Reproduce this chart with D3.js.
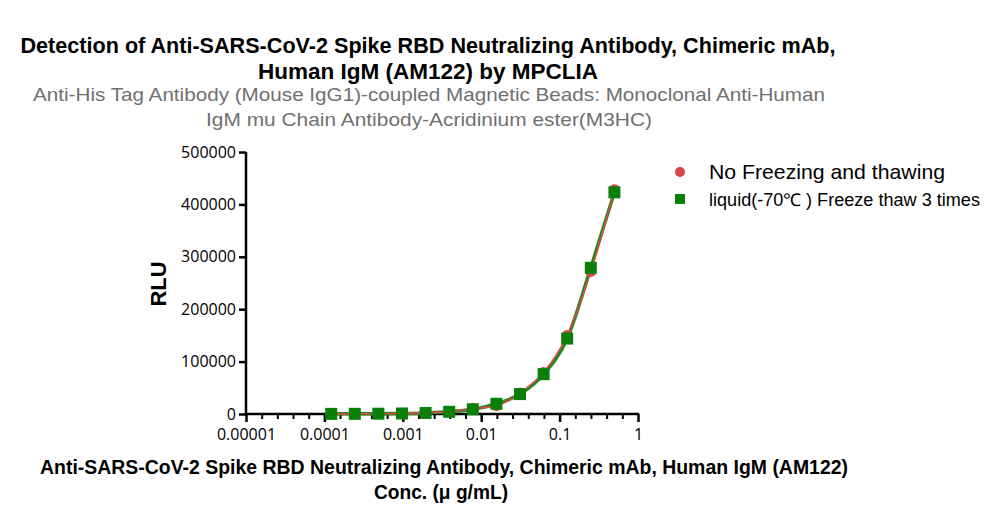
<!DOCTYPE html>
<html><head><meta charset="utf-8">
<script src="https://cdn.jsdelivr.net/npm/d3@7"></script>
<style>body{margin:0;background:#fff}svg{display:block}</style>
</head><body><svg id="c" width="1000" height="523"></svg>
<script>
const conc = [0.5, 0.25, 0.125, 0.0625, 0.03125, 0.015625, 0.0078125, 0.00390625, 0.001953125, 0.0009765625, 0.00048828125, 0.000244140625, 0.0001220703125];
const rluNoFreeze = [428000, 272000, 150000, 79000, 40000, 16000, 10500, 4500, 2200, 1100, 600, 350, 250];
const rluFreeze3 = [423000, 279000, 144000, 76000, 38000, 19500, 9000, 4200, 2000, 1000, 550, 320, 230];
const yTicks = [0, 100000, 200000, 300000, 400000, 500000];
const xTicks = [0.00001, 0.0001, 0.001, 0.01, 0.1, 1];
const xTickLabels = ["0.00001", "0.0001", "0.001", "0.01", "0.1", "1"];
const seriesNames = ["No Freezing and thawing", "liquid(-70\u2103 ) Freeze thaw 3 times"];
const seriesColors = ["#d9434a", "#0a800a"];
const lineColors = ["#e0454d", "#1b8a1b"];

const svg = d3.select("#c");
const x = d3.scaleLog().domain([0.00001, 1]).range([246, 638]);
const y = d3.scaleLinear().domain([0, 500000]).range([414, 152]);

const narrow = "'Liberation Sans',Arial,sans-serif";
// titles
const title = svg.append("g").attr("font-family", narrow).attr("font-weight", "bold").attr("fill", "#000").attr("text-anchor", "middle");
title.append("text").attr("x", 428).attr("y", 53).attr("font-size", 22).attr("textLength", 815).attr("lengthAdjust", "spacingAndGlyphs").text("Detection of Anti-SARS-CoV-2 Spike RBD Neutralizing Antibody, Chimeric mAb,");
title.append("text").attr("x", 428).attr("y", 79).attr("font-size", 22).attr("textLength", 340).attr("lengthAdjust", "spacingAndGlyphs").text("Human IgM (AM122) by MPCLIA");
const sub = svg.append("g").attr("font-family", narrow).attr("fill", "#707070").attr("text-anchor", "middle");
sub.append("text").attr("x", 429).attr("y", 101).attr("font-size", 19).attr("textLength", 792).attr("lengthAdjust", "spacingAndGlyphs").text("Anti-His Tag Antibody (Mouse IgG1)-coupled Magnetic Beads: Monoclonal Anti-Human");
sub.append("text").attr("x", 429).attr("y", 126).attr("font-size", 19).attr("textLength", 446).attr("lengthAdjust", "spacingAndGlyphs").text("IgM mu Chain Antibody-Acridinium ester(M3HC)");

// axes
const tickFont = "'Open Sans',sans-serif";
const yAxis = d3.axisLeft(y).tickValues(yTicks).tickFormat(d3.format("d")).tickSize(7).tickPadding(3);
const gy = svg.append("g").attr("transform", "translate(246,0)").call(yAxis);
gy.select(".domain").attr("stroke-width", 2.5).attr("d", "M0,152V414");
gy.selectAll(".tick line").attr("stroke-width", 2.5);
gy.selectAll("text").attr("font-family", tickFont).attr("font-size", 16).attr("fill", "#000");

const minor = [];
for (let e = -5; e < 0; e++) { for (let k = 1; k < 5; k++) minor.push(Math.pow(10, e + k / 5)); }
const xAxisMinor = d3.axisBottom(x).tickValues(minor).tickFormat("").tickSize(5);
const gxm = svg.append("g").attr("transform", "translate(0,414)").call(xAxisMinor);
gxm.select(".domain").remove();
gxm.selectAll(".tick line").attr("stroke-width", 2);
const xAxis = d3.axisBottom(x).tickValues(xTicks).tickFormat((d, i) => xTickLabels[i]).tickSize(8).tickPadding(7);
const gx = svg.append("g").attr("transform", "translate(0,414)").call(xAxis);
gx.select(".domain").attr("stroke-width", 2.5).attr("d", "M245,0H639");
gx.selectAll(".tick line").attr("stroke-width", 2.5);
gx.selectAll("text").attr("font-family", tickFont).attr("font-size", 16).attr("fill", "#000");

// axis titles
svg.append("text").attr("transform", "translate(166,284) rotate(-90)").attr("text-anchor", "middle").attr("font-family", "'Liberation Sans',Arial,sans-serif").attr("font-weight", "bold").attr("font-size", 22).text("RLU");
const xt = svg.append("g").attr("font-family", narrow).attr("font-weight", "bold").attr("text-anchor", "middle");
xt.append("text").attr("x", 444).attr("y", 474).attr("font-size", 20).attr("textLength", 808).attr("lengthAdjust", "spacingAndGlyphs").text("Anti-SARS-CoV-2 Spike RBD Neutralizing Antibody, Chimeric mAb, Human IgM (AM122)");
xt.append("text").attr("x", 441).attr("y", 499).attr("font-size", 20).attr("textLength", 134).attr("lengthAdjust", "spacingAndGlyphs").text("Conc. (\u03bc g/mL)");

// curves
const line = d3.line().x(d => x(d[0])).y(d => y(d[1])).curve(d3.curveMonotoneX);
const pts = s => conc.map((c, i) => [c, s[i]]).sort((a, b) => a[0] - b[0]);
svg.append("path").attr("d", line(pts(rluFreeze3))).attr("fill", "none").attr("stroke", lineColors[1]).attr("stroke-width", 3.5);
svg.append("path").attr("d", line(pts(rluNoFreeze))).attr("fill", "none").attr("stroke", lineColors[0]).attr("stroke-width", 1.6);

// markers
svg.append("g").selectAll("circle").data(pts(rluNoFreeze)).join("circle")
  .attr("cx", d => x(d[0])).attr("cy", d => y(d[1])).attr("r", 5.5).attr("fill", seriesColors[0]);
svg.append("g").selectAll("rect").data(pts(rluFreeze3)).join("rect")
  .attr("x", d => x(d[0]) - 6).attr("y", d => y(d[1]) - 6).attr("width", 12).attr("height", 12).attr("fill", seriesColors[1]);

// legend
const lg = svg.append("g").attr("font-family", "'Liberation Sans',Arial,sans-serif").attr("fill", "#000");
lg.append("circle").attr("cx", 680).attr("cy", 172).attr("r", 5).attr("fill", seriesColors[0]);
lg.append("text").attr("x", 709).attr("y", 179).attr("font-size", 21).attr("textLength", 236).attr("lengthAdjust", "spacingAndGlyphs").text(seriesNames[0]);
lg.append("rect").attr("x", 675).attr("y", 194).attr("width", 10).attr("height", 10).attr("fill", seriesColors[1]);
lg.append("text").attr("x", 709).attr("y", 206).attr("font-size", 17.5).attr("textLength", 271).attr("lengthAdjust", "spacingAndGlyphs").text(seriesNames[1]);
</script></body></html>
